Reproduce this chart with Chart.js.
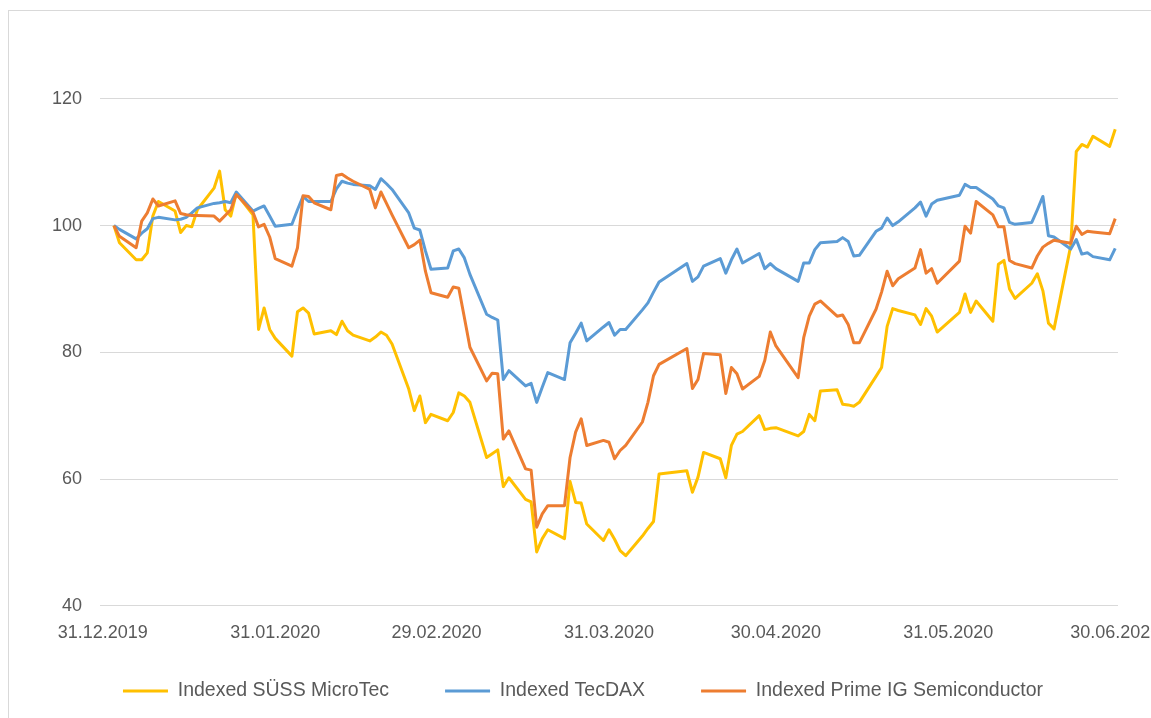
<!DOCTYPE html>
<html>
<head>
<meta charset="utf-8">
<title>Indexed SÜSS MicroTec / TecDAX / Prime IG Semiconductor</title>
<script src="https://cdn.jsdelivr.net/npm/chart.js@4.4.1/dist/chart.umd.min.js"></script>
<style>
  html, body { margin: 0; padding: 0; background: #fff; width: 1151px; height: 718px; overflow: hidden; }
  #frame { position: absolute; left: 8px; top: 10px; width: 1300px; height: 800px; border: 1px solid #d9d9d9; box-sizing: border-box; }
  #wrap { position: absolute; left: 0; top: 0; width: 1200px; height: 718px; }
</style>
</head>
<body>
<div id="frame"></div>
<div id="wrap"><canvas id="chart" width="1200" height="718"></canvas></div>
<script>
// trading days 2020 (dd.mm), Jan-Jun
const tradingDays = [
  '02.01', '03.01', '06.01', '07.01', '08.01', '09.01', '10.01', '13.01', '14.01', '15.01', '16.01',
  '17.01', '20.01', '21.01', '22.01', '23.01', '24.01', '27.01', '28.01', '29.01', '30.01', '31.01',
  '03.02', '04.02', '05.02', '06.02', '07.02', '10.02', '11.02', '12.02', '13.02', '14.02',
  '17.02', '18.02', '19.02', '20.02', '21.02', '24.02', '25.02', '26.02', '27.02', '28.02',
  '02.03', '03.03', '04.03', '05.03', '06.03', '09.03', '10.03', '11.03', '12.03', '13.03', '16.03',
  '17.03', '18.03', '19.03', '20.03', '23.03', '24.03', '25.03', '26.03', '27.03', '30.03', '31.03',
  '01.04', '02.04', '03.04', '06.04', '07.04', '08.04', '09.04', '14.04', '15.04', '16.04',
  '17.04', '20.04', '21.04', '22.04', '23.04', '24.04', '27.04', '28.04', '29.04', '30.04',
  '04.05', '05.05', '06.05', '07.05', '08.05', '11.05', '12.05', '13.05', '14.05', '15.05',
  '18.05', '19.05', '20.05', '21.05', '22.05', '25.05', '26.05', '27.05', '28.05', '29.05',
  '02.06', '03.06', '04.06', '05.06', '08.06', '09.06', '10.06', '11.06', '12.06', '15.06', '16.06',
  '17.06', '18.06', '19.06', '22.06', '23.06', '24.06', '25.06', '26.06', '29.06', '30.06',
];

const suess = [
  100, 97.3, 94.6, 94.6, 95.7, 101.5, 103.8, 102.3, 98.9, 100, 99.8,
  102.5, 105.9, 108.6, 102.5, 101.5, 105.1, 101.7, 83.6, 87, 83.6, 82.2,
  79.4, 86.4, 87, 86.2, 82.9, 83.4, 82.8, 84.9, 83.4, 82.7,
  81.8, 82.4, 83.2, 82.7, 81.3, 74.2, 70.8, 73.1, 68.9, 70.2,
  69.2, 70.5, 73.6, 73.1, 72.1, 63.4, 64, 64.6, 58.8, 60.2, 56.8,
  56.4, 48.5, 50.6, 52, 50.6, 59.6, 56.3, 56.2, 52.9, 50.3, 52,
  50.5, 48.7, 47.9, 51, 52.2, 53.3, 60.8, 61.3, 57.9, 60.3,
  64.2, 63.2, 60.2, 65.3, 67.1, 67.5, 70, 67.8, 68, 68.1,
  66.8, 67.5, 70.2, 69.2, 73.9, 74.1, 71.8, 71.7, 71.5, 72.1,
  76.2, 77.6, 84.1, 86.9, 86.6, 85.9, 84.4, 86.9, 85.7, 83.2,
  86.3, 89.2, 86.3, 88.1, 84.9, 93.9, 94.5, 90, 88.5, 90.9, 92.4,
  89.7, 84.6, 83.7, 96.8, 111.7, 112.8, 112.4, 114.1, 112.5, 115.2,
];

const tecdax = [
  100, 99.4, 97.9, 98.8, 99.5, 101.1, 101.3, 100.9, 101, 101.3, 102,
  102.8, 103.5, 103.6, 103.8, 103.6, 105.3, 102.3, 102.7, 103.1, 101.5, 99.9,
  100.2, 102.5, 104.6, 103.8, 103.8, 103.8, 105.8, 107, 106.7, 106.5,
  106.3, 105.7, 107.4, 106.6, 105.7, 102, 99.6, 99.3, 96, 93.1,
  93.3, 96, 96.3, 94.9, 92.3, 86, 85.5, 85.1, 75.7, 77.1, 74.7,
  75.1, 72.1, 74.5, 76.8, 75.7, 81.5, 83, 84.6, 81.8, 84, 84.7,
  82.7, 83.6, 83.6, 86.7, 87.8, 89.5, 91.1, 94, 91.2, 91.9,
  93.6, 94.8, 92.5, 94.6, 96.3, 94.1, 95.6, 93.2, 94, 93.2,
  91.2, 94.1, 94.1, 96.2, 97.3, 97.5, 98.1, 97.5, 95.2, 95.3,
  99.1, 99.6, 101.2, 100, 100.6, 102.8, 103.7, 101.5, 103.4, 104,
  104.8, 106.5, 106, 106, 104.2, 103.1, 102.8, 100.5, 100.2, 100.5, 102.5,
  104.6, 98.4, 98.2, 96.3, 97.8, 95.5, 95.7, 95.1, 94.6, 96.4,
];

const primeSemi = [
  100, 98.3, 96.5, 100.7, 102, 104.2, 103.1, 103.9, 101.9, 101.7, 101.6,
  101.6, 101.5, 100.7, 101.6, 102.5, 104.9, 102.1, 99.8, 100.2, 98.2, 94.8,
  93.6, 96.5, 104.7, 104.6, 103.6, 102.5, 107.9, 108.1, 107.5, 107,
  105.7, 102.8, 105.3, 103.5, 101.7, 96.5, 97, 97.7, 92.8, 89.4,
  88.7, 90.3, 90.1, 85.5, 80.8, 75.5, 76.7, 76.6, 66.3, 67.6, 61.6,
  61.4, 52.4, 54.5, 55.8, 55.8, 63.4, 67.4, 69.5, 65.3, 66.1, 65.8,
  63.2, 64.5, 65.3, 69, 72.1, 76.3, 78.1, 80.6, 74.3, 75.7,
  79.8, 79.6, 73.5, 77.6, 76.6, 74.2, 76.2, 78.7, 83.2, 81,
  76, 82.3, 85.7, 87.6, 88.1, 85.7, 85.9, 84.4, 81.5, 81.5,
  86.8, 89.5, 92.8, 90.5, 91.6, 93.3, 96.2, 92.5, 93.2, 90.9,
  94.4, 99.9, 98.8, 103.8, 101.7, 99.8, 99.8, 94.5, 94, 93.3, 95.2,
  96.6, 97.2, 97.7, 97.2, 99.9, 98.6, 99.1, 99, 98.7, 101.1,
];

const seriesNames = ['Indexed SÜSS MicroTec', 'Indexed TecDAX', 'Indexed Prime IG Semiconductor'];
const seriesColors = ['#FFC000', '#5B9BD5', '#ED7D31'];
const xTickLabels = ['31.12.2019', '31.01.2020', '29.02.2020', '31.03.2020', '30.04.2020', '31.05.2020', '30.06.2020'];
const yTicks = [40, 60, 80, 100, 120];

const FONT = "'Liberation Sans', Arial, sans-serif";
const TEXT = '#595959';

// days since 31.12.2019
function dayOf(s) {
  const [d, m, y] = s.split('.').map(Number);
  return Math.round((Date.UTC(y, m - 1, d) - Date.UTC(2019, 11, 31)) / 864e5);
}

const xs = tradingDays.map((d) => dayOf(d + '.2020'));
const xTickDays = xTickLabels.map(dayOf);

function points(vals) {
  return vals.map((v, i) => ({ x: xs[i], y: v }));
}

const datasets = [suess, tecdax, primeSemi].map((vals, i) => ({
  label: seriesNames[i],
  data: points(vals),
  borderColor: seriesColors[i],
  backgroundColor: seriesColors[i],
  borderWidth: 3,
  pointRadius: 0,
  tension: 0,
  borderJoinStyle: 'round',
  order: 3 - i,
}));

new Chart(document.getElementById('chart'), {
  type: 'line',
  data: { datasets },
  options: {
    responsive: false,
    devicePixelRatio: 1,
    animation: false,
    layout: { padding: { left: 48, right: 82, top: 35.5, bottom: 7.25 } },
    plugins: {
      tooltip: { enabled: false },
      legend: {
        position: 'bottom',
        labels: {
          usePointStyle: true,
          pointStyle: 'line',
          pointStyleWidth: 45,
          padding: 56,
          color: TEXT,
          font: { family: FONT, size: 19.5 },
          sort: (a, b) => a.datasetIndex - b.datasetIndex,
        },
      },
    },
    scales: {
      x: {
        type: 'linear',
        min: -0.5,
        max: 182.5,
        grid: { display: false, drawTicks: false },
        border: { display: false },
        afterBuildTicks: (scale) => {
          scale.ticks = xTickDays.map((v) => ({ value: v }));
        },
        afterFit: (scale) => {
          scale.height = 19.5;
          scale.paddingLeft = 0;
          scale.paddingRight = 0;
          // the axis box is kept thin so the legend sits close; don't clip the labels to it
          scale._computeLabelArea = () => undefined;
        },
        ticks: {
          autoSkip: false,
          maxRotation: 0,
          padding: 16,
          color: TEXT,
          font: { family: FONT, size: 18 },
          callback: (v) => xTickLabels[xTickDays.indexOf(v)] || '',
        },
      },
      y: {
        min: 40,
        max: 130,
        grid: { color: '#d9d9d9', lineWidth: 1, drawTicks: false },
        border: { display: false },
        afterBuildTicks: (scale) => {
          scale.ticks = yTicks.map((v) => ({ value: v }));
        },
        afterFit: (scale) => {
          scale.width = 52;
          scale.paddingTop = 0;
          scale.paddingBottom = 0;
        },
        ticks: {
          padding: 18,
          color: TEXT,
          font: { family: FONT, size: 18 },
          callback: (v) => String(v),
        },
      },
    },
  },
});
</script>
</body>
</html>
